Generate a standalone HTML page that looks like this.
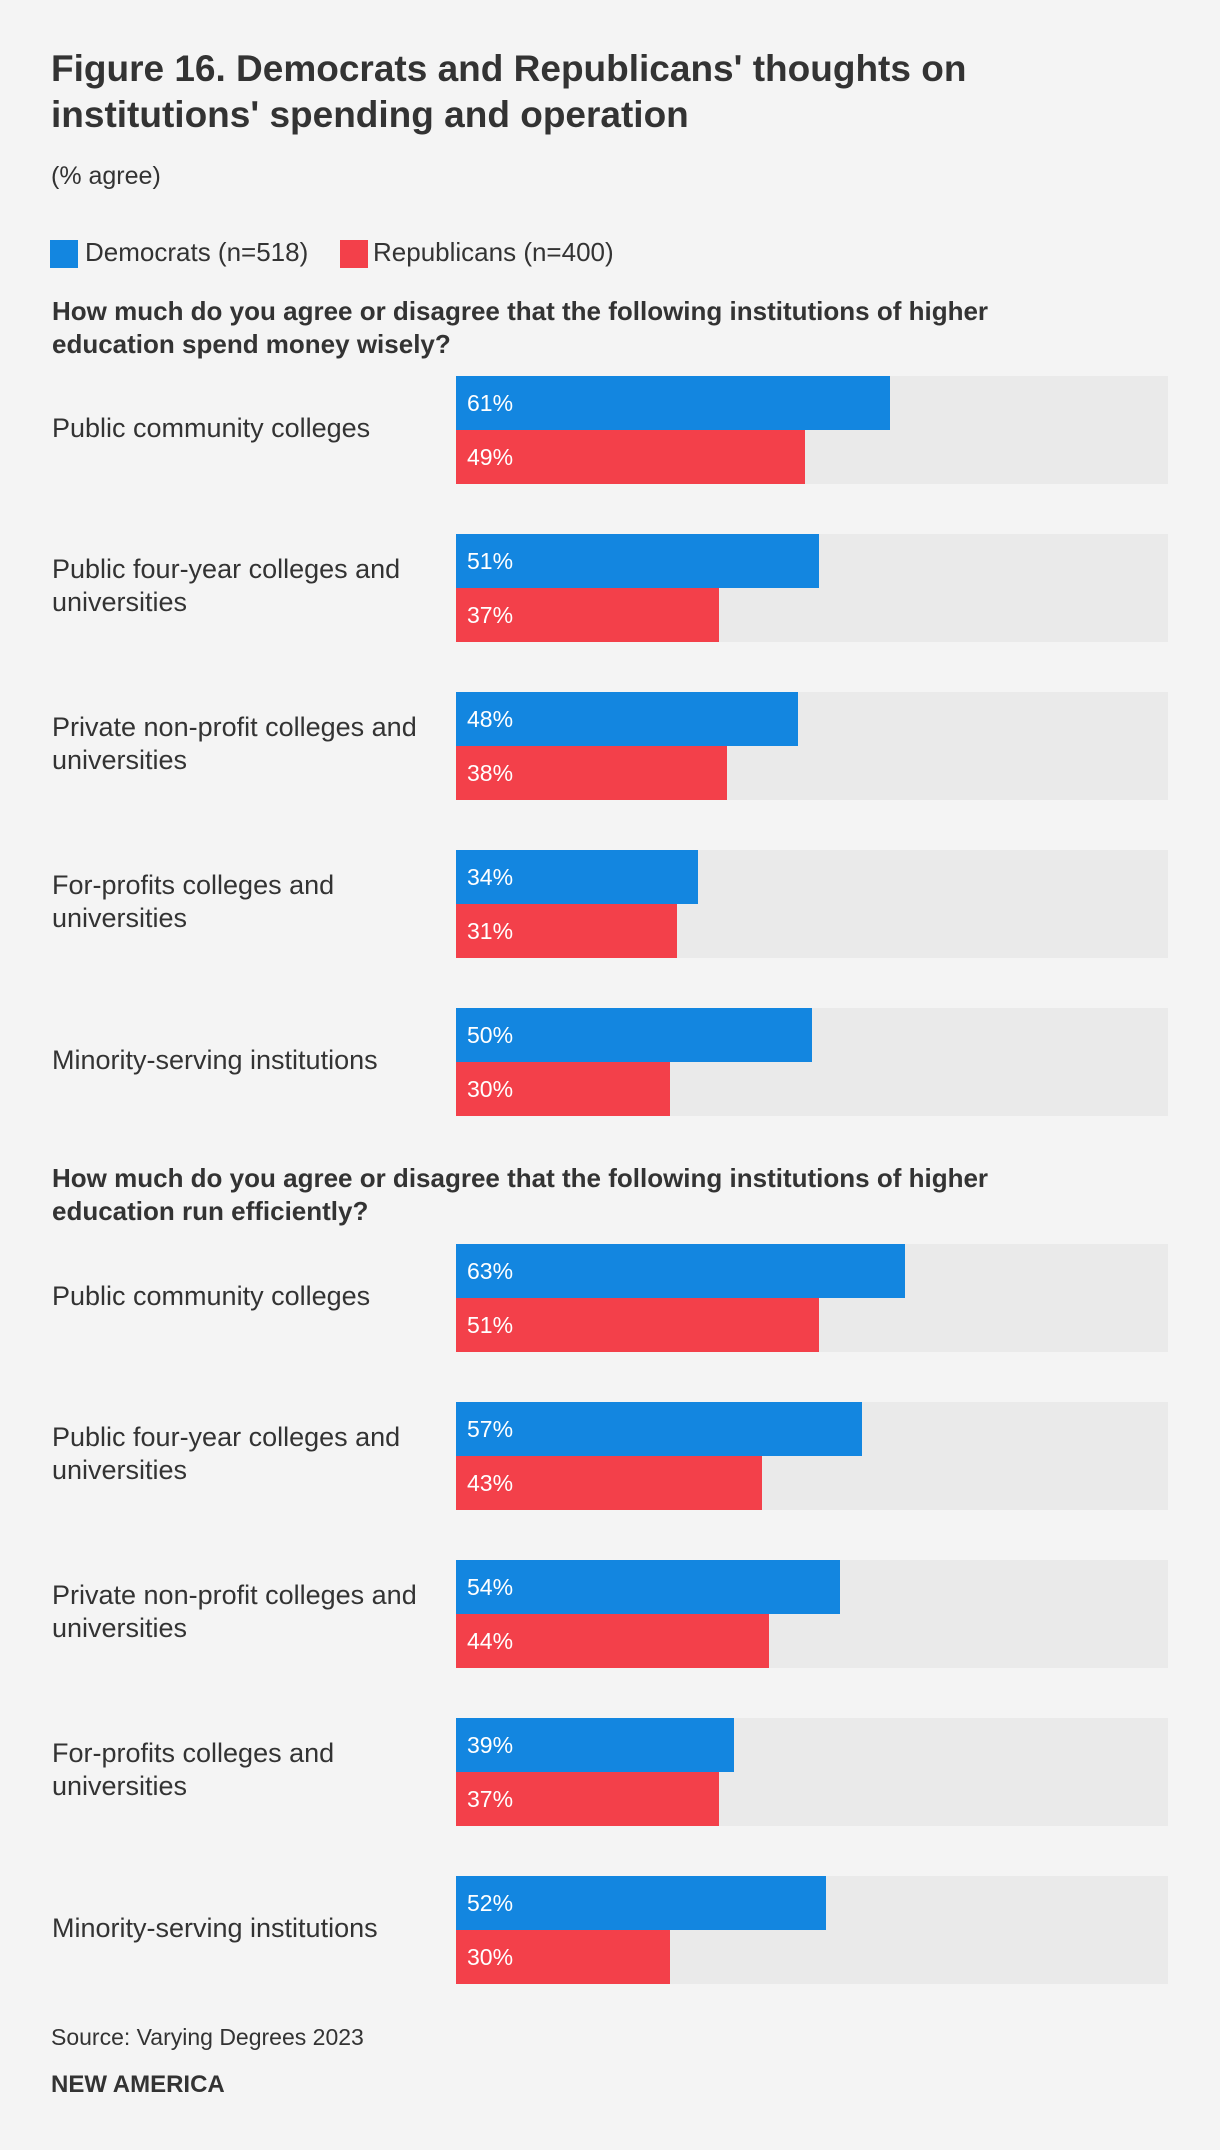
<!DOCTYPE html>
<html><head><meta charset="utf-8"><style>
body{margin:0;width:1220px;height:2150px;background:#f4f4f4;font-family:"Liberation Sans",sans-serif;color:#333;position:relative;overflow:hidden}
.a{position:absolute;white-space:nowrap}
.t{font-weight:bold;font-size:37px;line-height:46px}
.q{font-weight:bold;font-size:26px;line-height:33px}
.lab{font-size:27px;line-height:33px}
.pct{font-size:23px;color:#fff;line-height:54px}
</style></head><body>
<div class="a t" style="left:51px;top:46px">Figure 16. Democrats and Republicans' thoughts on<br>institutions' spending and operation</div>
<div class="a" style="left:51px;top:162px;font-size:25px">(% agree)</div>
<div class="a" style="left:50px;top:240px;width:28px;height:28px;background:#1386e0"></div>
<div class="a" style="left:85px;top:237px;font-size:26px">Democrats (n=518)</div>
<div class="a" style="left:340px;top:240px;width:28px;height:28px;background:#f3404a"></div>
<div class="a" style="left:373px;top:237px;font-size:26px">Republicans (n=400)</div>
<div class="a q" style="left:52px;top:295px">How much do you agree or disagree that the following institutions of higher<br>education spend money wisely?</div>
<div class="a q" style="left:52px;top:1162px">How much do you agree or disagree that the following institutions of higher<br>education run efficiently?</div>
<div class="a" style="left:51px;top:2024px;font-size:23px">Source: Varying Degrees 2023</div>
<div class="a" style="left:51px;top:2071px;font-size:24px;font-weight:bold">NEW AMERICA</div>
<div id="chart"></div>
<script>
const categories=["Public community colleges","Public four-year colleges and|universities","Private non-profit colleges and|universities","For-profits colleges and|universities","Minority-serving institutions"];
const demSpend=[61,51,48,34,50];
const repSpend=[49,37,38,31,30];
const demRun=[63,57,54,39,52];
const repRun=[51,43,44,37,30];
const X0=456,W=712,BH=54,STEP=158;
function xs(v){return v/100*W;}
const root=document.getElementById('chart');
function mk(style,cls){const d=document.createElement('div');d.className='a '+(cls||'');d.style.cssText=style;root.appendChild(d);return d;}
function section(top,dem,rep,key){
 categories.forEach((c,i)=>{
  const y=top+i*STEP;
  const bg=mk(`left:${X0}px;top:${y}px;width:${W}px;height:${BH*2}px;background:#eaeaea`);
  
  
  const lines=c.split('|');
  const l=mk(`left:52px;top:${y+BH-lines.length*33/2-2}px`,'lab');
  l.innerHTML=lines.join('<br>');
  
  
  [[dem[i],'#1386e0',0,'dem'],[rep[i],'#f3404a',BH,'rep']].forEach(([v,col,off,s])=>{
   const b=mk(`left:${X0}px;top:${y+off}px;width:${xs(v)}px;height:${BH}px;background:${col}`);
   
   
   const t=mk(`left:${X0+11}px;top:${y+off}px`,'pct');
   t.textContent=v+'%';
   
   
  });
 });
}
section(376,demSpend,repSpend,'spend');
section(1244,demRun,repRun,'run');
</script>
</body></html>
